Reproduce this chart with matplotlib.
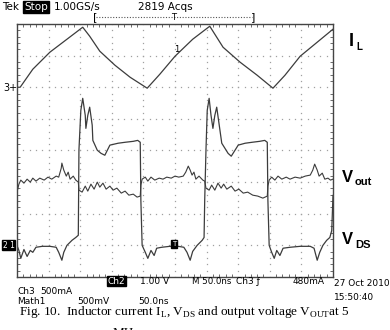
import matplotlib
matplotlib.use("Agg")
import matplotlib.pyplot as plt
import numpy as np
from matplotlib.lines import Line2D

plt.rcParams['font.family'] = ['DejaVu Sans']
plt.rcParams['mathtext.fontset'] = 'custom'
plt.rcParams['mathtext.rm'] = 'Liberation Serif'

# time base 50 ns/div, 10 divisions
# Ch3: inductor current (mA), 500 mA/div, ground at 6 div
t_il = [0, 5, 25, 52, 79, 104, 115, 131, 155, 179, 206, 226, 250, 278, 305,
        315, 326, 353, 380, 405, 424, 448, 475, 500]
il_ma = [0, 0, 285, 554, 759, 949, 807, 570, 348, 158, -15, 206, 490, 759, 965,
         807, 633, 396, 190, -15, 190, 490, 712, 918]

# Ch2: drain-source voltage (V), 1 V/div, ground at 1 div
t_vds = [0, 3, 6, 11, 16, 21, 25, 30, 40, 52, 62, 66, 71, 74, 79, 87, 93, 97,
         98, 101, 104, 108, 109, 112, 115, 119, 120, 127, 133, 139, 147, 160,
         171, 184, 191, 195, 196, 198, 203, 207, 212, 217, 221, 229, 242, 255,
         264, 269, 274, 278, 285, 293, 296, 297, 299, 301, 304, 307, 310, 313,
         316, 320, 324, 329, 334, 339, 345, 350, 361, 372, 384, 392, 396, 397,
         399, 403, 407, 411, 416, 421, 432, 448, 464, 470, 475, 479, 484, 490,
         495, 498, 500]
vds_v = [0, -0.16, -0.41, -0.13, -0.35, -0.16, -0.22, -0.06, -0.03, -0.03,
         -0.06, -0.22, -0.47, -0.22, 0, 0.16, 0.25, 0.32, 3.01, 4.27, 4.65,
         4.11, 3.70, 4.11, 4.37, 3.80, 3.32, 3.01, 2.91, 2.85, 3.17, 3.23,
         3.26, 3.29, 3.32, 3.26, 1.42, 0, -0.22, -0.41, -0.16, -0.32, -0.09,
         -0.06, -0.03, -0.03, -0.06, -0.22, -0.47, -0.19, 0, 0.16, 0.25, 1.42,
         3.01, 4.27, 4.65, 4.11, 3.70, 4.11, 4.37, 3.80, 3.23, 3.07, 2.91,
         2.82, 3.01, 3.17, 3.23, 3.26, 3.29, 3.32, 3.26, 1.42, 0, -0.22, -0.41,
         -0.16, -0.32, -0.09, -0.06, -0.03, -0.03, -0.09, -0.47, -0.22, 0,
         0.16, 0.25, 0.47, 1.58]

# Math1: output voltage ripple (mV), 500 mV/div, centred at 3 div
t_vout = [0, 3, 6, 11, 16, 21, 25, 30, 36, 43, 49, 55, 62, 66, 70, 71, 74, 78,
          81, 84, 89, 93, 97, 98, 103, 108, 112, 117, 122, 127, 131, 136, 141,
          147, 152, 158, 165, 171, 177, 184, 190, 195, 196, 198, 203, 207, 212,
          218, 225, 231, 237, 244, 250, 256, 263, 267, 271, 274, 277, 280, 283,
          288, 294, 297, 299, 304, 308, 313, 318, 323, 327, 332, 339, 345, 351,
          358, 365, 373, 381, 389, 396, 397, 399, 403, 408, 413, 419, 426, 432,
          440, 448, 456, 464, 468, 471, 475, 478, 483, 487, 492, 496, 500]
vout_mv = [-158, -32, 32, -16, 47, 0, 63, 16, 63, 32, 79, 47, 95, 79, 221, 301,
           190, 95, 158, 47, 95, 32, 0, -127, -158, -63, -142, -32, -111, 0,
           -79, -16, -111, -63, -127, -95, -174, -142, -206, -190, -237, -221,
           -47, 47, 79, 16, 79, 32, 63, 47, 79, 63, 95, 79, 95, 158, 253, 190,
           111, 158, 47, 95, 32, 16, -95, -127, -47, -127, -16, -95, -32, -111,
           -63, -142, -111, -174, -158, -206, -221, -253, -221, -63, 32, 79,
           32, 95, 47, 79, 47, 79, 63, 95, 111, 190, 285, 190, 95, 142, 47, 63,
           32, 47]

il_scale, il_pos = 500.0, 6.0
vds_scale, vds_pos = 1.0, 1.0
vout_scale, vout_pos = 500.0, 3.0

W, H = 390, 330
fig = plt.figure(figsize=(W / 100, H / 100), dpi=100)
fig.patch.set_facecolor('white')
ax = fig.add_axes([17 / W, 1 - 277 / H, 316 / W, 253 / H])
ax.set_xlim(0, 500)
ax.set_ylim(0, 8)

# graticule: dotted lines, dot every 0.2 div
gcol = '#a0a0a0'
xd = np.arange(0, 501, 10)
yd = np.arange(0, 8.01, 0.2)
for gx in range(50, 500, 50):
    ax.plot(np.full_like(yd, gx), yd, ls='none', marker='s', ms=0.9,
            color=gcol, mec='none')
for gy in range(1, 8):
    ax.plot(xd, np.full_like(xd, gy, dtype=float), ls='none', marker='s',
            ms=0.9, color=gcol, mec='none')

ax.set_xticks(np.arange(0, 501, 50))
ax.set_yticks(np.arange(0, 8.01, 1))
ax.set_xticks(np.arange(0, 501, 10), minor=True)
ax.set_yticks(np.arange(0, 8.01, 0.2), minor=True)
ax.tick_params(which='both', direction='in', top=True, right=True,
               labelbottom=False, labelleft=False, color='#555555')
ax.tick_params(which='major', length=0)
ax.tick_params(which='minor', length=2.5, width=0.6)
for s in ax.spines.values():
    s.set_color('#444444')
    s.set_linewidth(1.0)

tc = '#3c3c3c'
ax.plot(t_il, np.array(il_ma) / il_scale + il_pos, color=tc, lw=0.9)
ax.plot(t_vds, np.array(vds_v) / vds_scale + vds_pos, color=tc, lw=0.9)
ax.plot(t_vout, np.array(vout_mv) / vout_scale + vout_pos, color=tc, lw=0.8)


def ft(px, py, s, **kw):
    kw.setdefault('fontsize', 6.5)
    kw.setdefault('va', 'center')
    kw.setdefault('ha', 'left')
    return fig.text(px / W, 1 - py / H, s, **kw)


box = dict(boxstyle='square,pad=0.08', fc='black', ec='black')

# header
ft(2, 7, 'Tek', fontsize=7.5)
ft(24, 7, 'Stop', color='white', bbox=box, fontsize=7.5)
ft(54, 7, '1.00GS/s', fontsize=7.5)
ft(138, 7, '2819 Acqs', fontsize=7.5)
fig.add_artist(Line2D([96 / W, 252 / W], [1 - 17 / H, 1 - 17 / H],
                      color='#555555', lw=0.8, ls=(0, (1, 1.5))))
ft(93, 17, '[', fontsize=8)
ft(251, 17, ']', fontsize=8)
ft(174, 17.5, 'T', fontsize=6, ha='center')

# channel markers
ft(3, 88, '3+', fontsize=7)
ft(3, 245, '2 1', color='white', bbox=box, fontsize=5.5)
ft(172, 244, 'T', color='white', bbox=box, fontsize=5)
ft(174, 50, '1', fontsize=6)

# trace labels
ft(349, 41, 'I', fontsize=13, fontweight='bold', family='Liberation Sans')
ft(356, 47, 'L', fontsize=7, fontweight='bold', family='Liberation Sans')
ft(342, 177, 'V', fontsize=12, fontweight='bold', family='Liberation Sans')
ft(355, 182, 'out', fontsize=8, fontweight='bold', family='Liberation Sans')
ft(342, 240, 'V', fontsize=12, fontweight='bold', family='Liberation Sans')
ft(355, 245, 'DS', fontsize=8, fontweight='bold', family='Liberation Sans')

# status area
ft(108, 281, 'Ch2', color='white', bbox=box)
ft(140, 281, '1.00 V')
ft(192, 281, 'M 50.0ns', fontsize=6.2)
ft(236, 281, 'Ch3 \u0192')
ft(293, 281, '480mA')
ft(334, 284, '27 Oct 2010')
ft(17, 292, 'Ch3')
ft(40, 292, '500mA')
ft(334, 297, '15:50:40')
ft(17, 301, 'Math1')
ft(77, 301, '500mV')
ft(138, 301, '50.0ns')

# caption
cap = (r'Fig. 10.  Inductor current I$_\mathrm{L}$, V$_\mathrm{DS}$ and output '
       r'voltage V$_\mathrm{OUT}$at 5')
ft(19, 312, cap, fontsize=9.5, family='Liberation Serif')
ft(113, 327, 'MHz', fontsize=9.5, family='Liberation Serif', va='top')

fig.savefig('out.png', dpi=100)
